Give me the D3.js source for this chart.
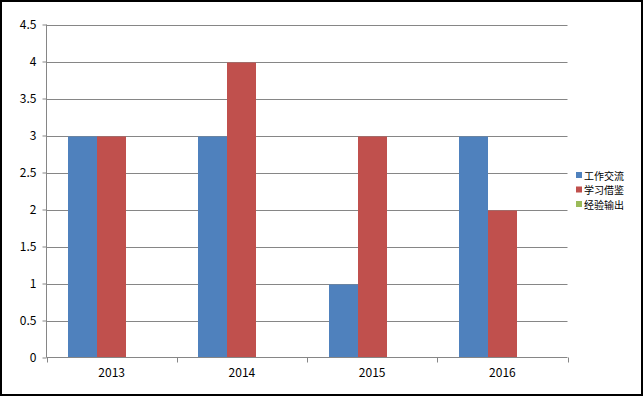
<!DOCTYPE html>
<html><head><meta charset="utf-8">
<script src="https://cdn.jsdelivr.net/npm/d3@7"></script>
<style>body{margin:0;background:#fff}svg{display:block}</style>
</head><body>
<script>
const categories = ["2013","2014","2015","2016"];
const seriesNames = ["工作交流","学习借鉴","经验输出"];
const work = [3,3,1,3];
const learn = [3,4,3,2];
const output = [0,0,0,0];
const yTicks = [0,0.5,1,1.5,2,2.5,3,3.5,4,4.5];
const colors = ["#4F81BD","#C0504D","#9BBB59"];
const values = [work, learn, output];

(function(){
const W=643,H=396;
const svg=d3.select("body").append("svg").attr("width",W).attr("height",H);
svg.append("rect").attr("x",1).attr("y",1).attr("width",W-2).attr("height",H-2)
  .attr("fill","#fff").attr("stroke","#000").attr("stroke-width",2);

const pL=46.5,pR=567.5,pT=24.5,pB=357.5;
const x=d3.scaleBand().domain(categories).range([pL,pR]).paddingInner(0).paddingOuter(0);
const x1=d3.scaleBand().domain(seriesNames).range([0,x.bandwidth()]).paddingInner(0).paddingOuter(0.75);
const y=d3.scaleLinear().domain([0,4.5]).range([pB,pT]);
const font="'SimSun','Noto Sans CJK SC',sans-serif";

svg.append("g").selectAll("line").data(yTicks.filter(d=>d>0)).join("line")
  .attr("x1",pL).attr("x2",pR).attr("y1",d=>Math.round(y(d))+0.5).attr("y2",d=>Math.round(y(d))+0.5)
  .attr("stroke","#868686").attr("stroke-width",1);

categories.forEach((c,i)=>{
  seriesNames.forEach((s,j)=>{
    const v=values[j][i];
    if(v<=0) return;
    const x0=Math.round(x(c)+x1(s)), xe=Math.round(x(c)+x1(s)+x1.bandwidth());
    const yt=Math.round(y(v))+0.5;
    svg.append("rect").attr("x",x0).attr("width",xe-x0)
      .attr("y",yt).attr("height",pB-yt).attr("fill",colors[j]);
  });
});

const yAxis=d3.axisLeft(y).tickValues(yTicks).tickSize(4).tickPadding(6).tickFormat(d=>String(d));
const gy=svg.append("g").attr("transform",`translate(${pL},0)`).call(yAxis);
gy.select(".domain").attr("stroke","#868686").attr("d",`M0,${pT}V${pB}`);
gy.selectAll(".tick line").attr("stroke","#868686");
gy.selectAll(".tick text").attr("font-family",font).attr("font-size",12).attr("fill","#000");

const xAxis=d3.axisBottom(x).tickSize(0).tickPadding(11);
const gx=svg.append("g").attr("transform",`translate(0,${pB})`).call(xAxis);
gx.select(".domain").attr("stroke","#868686").attr("d",`M${pL},0H${pR}`);
gx.selectAll(".tick text").attr("font-family",font).attr("font-size",12).attr("fill","#000");
const bounds=categories.map(c=>x(c)).concat([pR]);
svg.append("g").selectAll("line").data(bounds).join("line")
  .attr("x1",d=>Math.round(d)+0.5).attr("x2",d=>Math.round(d)+0.5)
  .attr("y1",pB).attr("y2",pB+5).attr("stroke","#868686");

const lg=svg.append("g").attr("transform","translate(576,170)");
seriesNames.forEach((s,i)=>{
  const g=lg.append("g").attr("transform",`translate(0,${i*14.5})`);
  g.append("rect").attr("width",6).attr("height",6).attr("y",2).attr("fill",colors[i]);
  g.append("text").attr("x",8).attr("y",9.5).text(s)
    .attr("font-family",font).attr("font-size",10).attr("fill","#000");
});
})();
</script>
</body></html>
